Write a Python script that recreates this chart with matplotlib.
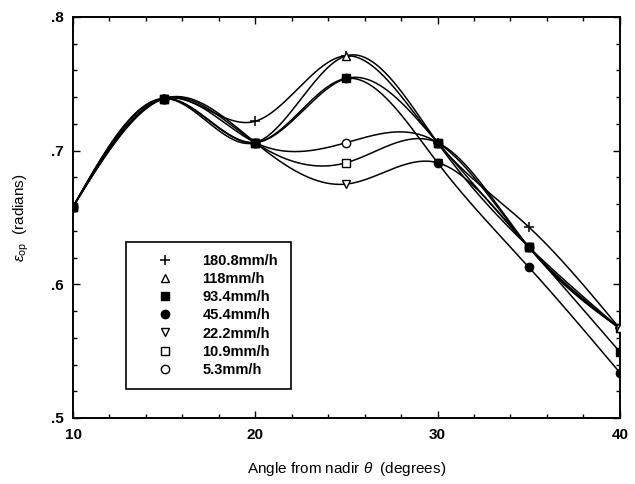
import numpy as np
import matplotlib
matplotlib.use("Agg")
import matplotlib.pyplot as plt

# Angle from nadir (degrees)
angles = [10, 15, 20, 25, 30, 35, 40]

# epsilon_op (radians) for each rain rate
rain_labels = ["180.8mm/h", "118mm/h", "93.4mm/h", "45.4mm/h",
               "22.2mm/h", "10.9mm/h", "5.3mm/h"]
eps_180 = [0.658, 0.739, 0.722, 0.771, 0.706, 0.643, 0.567]
eps_118 = [0.658, 0.739, 0.706, 0.771, 0.706, 0.628, 0.567]
eps_93 = [0.658, 0.739, 0.706, 0.754, 0.706, 0.628, 0.5495]
eps_45 = [0.658, 0.739, 0.706, 0.754, 0.691, 0.613, 0.534]
eps_22 = [0.658, 0.739, 0.706, 0.675, 0.691, 0.628, 0.567]
eps_10 = [0.658, 0.739, 0.706, 0.691, 0.706, 0.628, 0.567]
eps_5 = [0.658, 0.739, 0.706, 0.706, 0.706, 0.628, 0.567]

series = [eps_180, eps_118, eps_93, eps_45, eps_22, eps_10, eps_5]
markers = ["+", "^", "s", "o", "v", "s", "o"]
filled = [True, False, True, True, False, False, False]

yticks = [0.5, 0.6, 0.7, 0.8]
ytick_labels = [".5", ".6", ".7", ".8"]
xticks = [10, 20, 30, 40]


# natural cubic spline, used only to draw the smooth connecting curves
def spline(x, y, xs):
    x = np.asarray(x, float)
    y = np.asarray(y, float)
    n = len(x)
    h = np.diff(x)
    A = np.zeros((n, n))
    b = np.zeros(n)
    A[0, 0] = A[-1, -1] = 1
    for i in range(1, n - 1):
        A[i, i - 1] = h[i - 1]
        A[i, i] = 2 * (h[i - 1] + h[i])
        A[i, i + 1] = h[i]
        b[i] = 6 * ((y[i + 1] - y[i]) / h[i] - (y[i] - y[i - 1]) / h[i - 1])
    M = np.linalg.solve(A, b)
    idx = np.clip(np.searchsorted(x, xs) - 1, 0, n - 2)
    x0, x1 = x[idx], x[idx + 1]
    hh = x1 - x0
    t0, t1 = x1 - xs, xs - x0
    return (M[idx] * t0 ** 3 / (6 * hh) + M[idx + 1] * t1 ** 3 / (6 * hh)
            + (y[idx] / hh - M[idx] * hh / 6) * t0
            + (y[idx + 1] / hh - M[idx + 1] * hh / 6) * t1)


plt.rcParams['font.family'] = ['Liberation Sans', 'DejaVu Sans']
plt.rcParams['mathtext.fontset'] = 'custom'
plt.rcParams['mathtext.it'] = 'Liberation Sans:italic'
plt.rcParams['mathtext.rm'] = 'Liberation Sans'

fig = plt.figure(figsize=(6.35, 4.84), dpi=100)
ax = fig.add_axes([0.115, 0.1364, 0.861, 0.8285])

xs = np.linspace(angles[0], angles[-1], 400)
order = [4, 5, 6, 0, 1, 3, 2]  # filled markers end up on top
for i in order:
    ax.plot(xs, spline(angles, series[i], xs), color='black', lw=1.1, zorder=2)
for i in order:
    m = markers[i]
    if m == "+":
        ax.plot(angles, series[i], ls='none', marker=m, ms=7, mew=1.1,
                color='black', label=rain_labels[i], zorder=3)
    else:
        ax.plot(angles, series[i], ls='none', marker=m, ms=6, mew=1.0,
                mec='black', mfc='black' if filled[i] else 'white',
                label=rain_labels[i], zorder=3)

ax.set_xlim(10, 40)
ax.set_ylim(0.5, 0.8)
ax.set_xticks(xticks)
ax.set_xticklabels([str(t) for t in xticks], fontweight='bold', fontsize=11)
ax.set_xticks(np.arange(10, 41, 2), minor=True)
ax.set_yticks(yticks)
ax.set_yticklabels(ytick_labels, fontweight='bold', fontsize=11)
ax.set_yticks(np.arange(0.5, 0.801, 0.02), minor=True)
ax.tick_params(which='both', direction='in', top=True, right=True, width=1)
ax.tick_params(which='major', length=5, pad=7)
ax.tick_params(which='minor', length=3)
for s in ax.spines.values():
    s.set_linewidth(1.4)

ax.set_xlabel(r'Angle from nadir $\theta$  (degrees)', fontsize=11, labelpad=13)
ax.set_ylabel(r'$\epsilon_{\rm op}$  (radians)', fontsize=11, labelpad=14)

handles, labels = ax.get_legend_handles_labels()
lookup = dict(zip(labels, handles))
leg = ax.legend([lookup[l] for l in rain_labels], rain_labels,
                loc='lower left', bbox_to_anchor=(0.097, 0.072),
                borderaxespad=0, fancybox=False, edgecolor='black',
                framealpha=1, handlelength=3.6,
                handletextpad=0.8, labelspacing=0.28, borderpad=0.85,
                prop={'weight': 'bold', 'size': 10.5})
leg.get_frame().set_linewidth(1.2)

fig.savefig('out.png', dpi=100)
